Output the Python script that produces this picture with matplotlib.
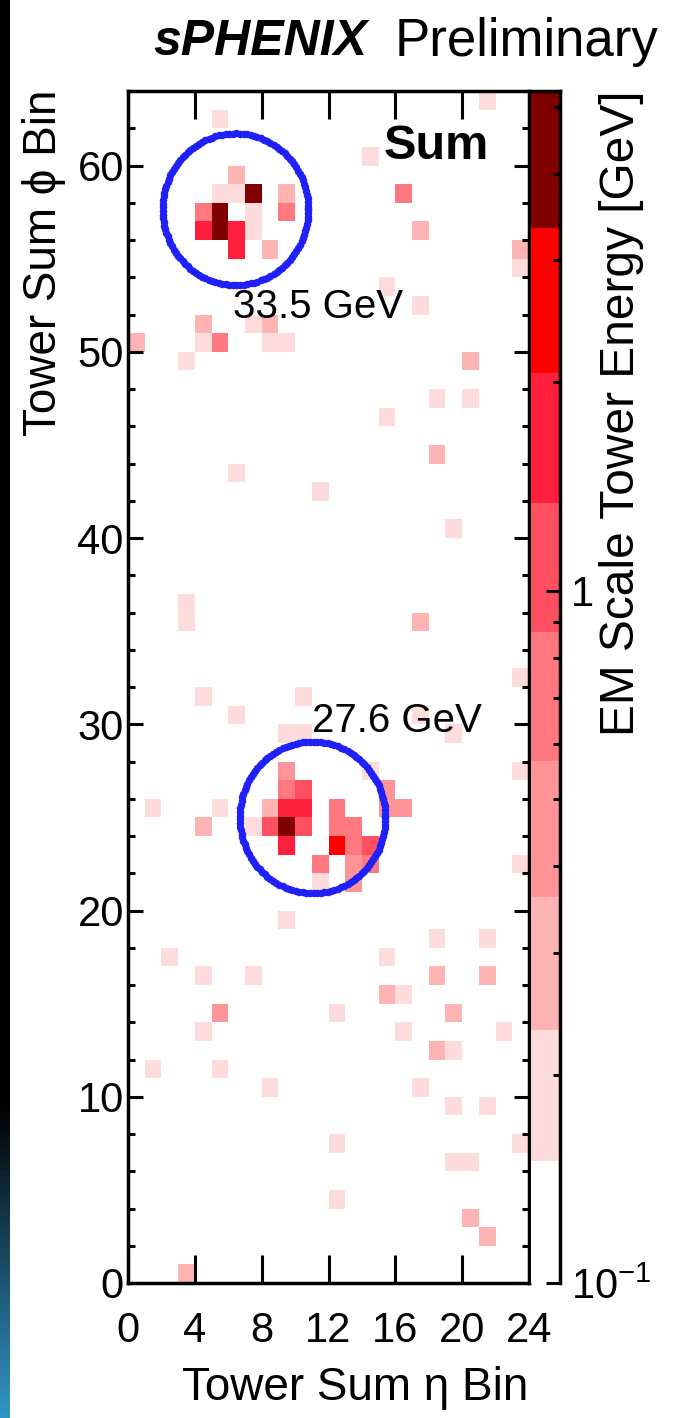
import numpy as np
import matplotlib
matplotlib.use('Agg')
import matplotlib.pyplot as plt
from matplotlib.colors import ListedColormap, BoundaryNorm

plt.rcParams['font.family'] = ['Liberation Sans', 'DejaVu Sans']
plt.rcParams['mathtext.fontset'] = 'custom'
plt.rcParams['mathtext.rm'] = 'Liberation Sans'
plt.rcParams['mathtext.it'] = 'Liberation Sans:italic'
plt.rcParams['mathtext.bf'] = 'Liberation Sans:bold'

# tower sums (eta bin, phi bin, energy in GeV)
eta_bins = [5, 21, 14, 6, 5, 6, 7, 9, 16,
            4, 5, 7, 9, 17,
            4, 5, 6, 7,
            6, 8, 23, 23, 15, 17,
            4, 7, 8, 0, 4, 5, 8, 9, 3, 20,
            18, 20, 15, 18, 6, 11, 19, 3, 3, 17,
            23, 4, 10, 6, 17, 9, 10, 19,
            9, 14, 23,
            9, 10, 15,
            1, 5, 8, 9, 10, 12, 15, 16,
            4, 7, 8, 9, 10, 12, 13,
            9, 12, 13, 14,
            11, 13, 14, 23,
            11, 13,
            9, 18, 21, 2, 15, 4, 7, 18, 21,
            15, 16, 5, 12, 19, 4, 16, 22,
            18, 19, 1, 5, 8, 17, 19, 21,
            12, 23, 19, 20, 12, 20, 21, 3]
phi_bins = [62, 63, 60, 59, 58, 58, 58, 58, 58,
            57, 57, 57, 57, 56,
            56, 56, 56, 56,
            55, 55, 55, 54, 53, 52,
            51, 51, 51, 50, 50, 50, 50, 50, 49, 49,
            47, 47, 46, 44, 43, 42, 40, 36, 35, 35,
            32, 31, 31, 30, 30, 29, 29, 29,
            27, 27, 27,
            26, 26, 26,
            25, 25, 25, 25, 25, 25, 25, 25,
            24, 24, 24, 24, 24, 24, 24,
            23, 23, 23, 23,
            22, 22, 22, 22,
            21, 21,
            19, 18, 18, 17, 17, 16, 16, 16, 16,
            15, 15, 14, 14, 14, 13, 13, 13,
            12, 12, 11, 11, 10, 10, 9, 9,
            7, 7, 6, 6, 4, 3, 2, 0]
energies = [0.19, 0.19, 0.19, 0.29, 0.19, 0.19, 4.2, 0.29, 0.70,
            0.70, 4.2, 0.19, 0.70, 0.29,
            1.7, 4.2, 1.7, 0.19,
            1.7, 0.29, 0.29, 0.19, 0.19, 0.19,
            0.29, 0.19, 0.29, 0.29, 0.19, 0.70, 0.19, 0.19, 0.19, 0.29,
            0.19, 0.19, 0.19, 0.29, 0.19, 0.19, 0.19, 0.19, 0.19, 0.29,
            0.19, 0.19, 0.19, 0.19, 0.19, 0.19, 0.19, 0.19,
            0.45, 0.19, 0.19,
            0.70, 1.1, 0.45,
            0.19, 0.19, 0.29, 1.7, 1.7, 0.70, 0.45, 0.45,
            0.29, 0.19, 1.1, 4.2, 1.1, 0.70, 0.70,
            1.7, 2.6, 0.70, 1.1,
            0.70, 0.45, 0.70, 0.19,
            0.19, 0.45,
            0.19, 0.19, 0.19, 0.19, 0.19, 0.19, 0.19, 0.29, 0.29,
            0.29, 0.19, 0.45, 0.19, 0.29, 0.19, 0.19, 0.19,
            0.29, 0.19, 0.19, 0.19, 0.19, 0.19, 0.19, 0.19,
            0.19, 0.19, 0.19, 0.19, 0.19, 0.29, 0.29, 0.29]

# z axis contours [GeV] and fill colours
z_levels = [0.1, 0.15, 0.232, 0.361, 0.567, 0.873, 1.34, 2.06, 3.34, 5.27]
z_colors = ['#ffffff', '#ffdcdc', '#ffb4b4', '#ff9498', '#ff7880',
            '#ff5062', '#ff1e3c', '#ff0000', '#800000']

# reconstructed jets: centre in bins, label
jet_eta = [6.44, 11.05]
jet_phi = [57.65, 25.0]
jet_r_eta = 4.36
jet_r_phi = 4.07
jet_labels = ['33.5 GeV', '27.6 GeV']
jet_label_pos = [(6.3, 52.4), (11.0, 30.2)]

n_eta, n_phi = 24, 64

H = np.zeros((n_phi, n_eta))
H[phi_bins, eta_bins] = energies
H = np.ma.masked_less(H, z_levels[0])

cmap = ListedColormap(z_colors)
norm = BoundaryNorm(z_levels, cmap.N)

W, Hpx = 674, 1418
fig = plt.figure(figsize=(W / 100, Hpx / 100), dpi=100)

# dark strip on the left edge of the screenshot
strip = fig.add_axes([0, 0, 10 / W, 1])
grad = np.linspace(0, 1, 200)
rgb = np.zeros((200, 1, 3))
t = np.clip((grad - 0.78) / 0.22, 0, 1)
rgb[:, 0, 0] = 0.20 * t
rgb[:, 0, 1] = 0.58 * t
rgb[:, 0, 2] = 0.78 * t
strip.imshow(rgb, aspect='auto', extent=[0, 1, 1, 0])
strip.axis('off')

ax = fig.add_axes([128 / W, 135 / Hpx, 401 / W, 1192 / Hpx])
ax.pcolormesh(np.arange(n_eta + 1), np.arange(n_phi + 1), H, cmap=cmap, norm=norm)
ax.set_xlim(0, n_eta)
ax.set_ylim(0, n_phi)

for x0, y0 in zip(jet_eta, jet_phi):
    th = np.linspace(0, 2 * np.pi, 130)
    ax.plot(x0 + jet_r_eta * np.cos(th), y0 + jet_r_phi * np.sin(th), ls='none',
            marker='o', ms=5.4, mew=0, color='#2020f8', zorder=5)
for lab, (x0, y0) in zip(jet_labels, jet_label_pos):
    ax.text(x0, y0, lab, fontsize=29, va='center', ha='left', zorder=6)
ax.text(15.3, 61.0, 'Sum', fontsize=35, fontweight='bold', va='center', ha='left')

ax.set_xticks(range(0, 25, 4))
ax.set_yticks(range(0, 61, 10))
ax.set_yticks(range(0, 65, 2), minor=True)
ax.tick_params(which='both', direction='in', top=True, right=True, width=2.2, labelsize=30)
ax.tick_params(axis='x', which='major', length=20, pad=20)
ax.tick_params(axis='x', which='minor', bottom=False, top=False)
ax.tick_params(axis='y', which='major', length=11, pad=3)
ax.tick_params(axis='y', which='minor', length=5)
for sp in ax.spines.values():
    sp.set_linewidth(2.5)

# colour scale
cax = fig.add_axes([531 / W, 135 / Hpx, 29 / W, 1192 / Hpx])
cax.set_yscale('log')
for lo, hi, c in zip(z_levels[:-1], z_levels[1:], z_colors):
    cax.axhspan(lo, hi, color=c, lw=0)
cax.set_ylim(z_levels[0], z_levels[-1])
cax.set_xlim(0, 1)
cax.set_xticks([])
cax.yaxis.tick_right()
cax.set_yticks([0.1, 1])
cax.set_yticklabels(['$10^{-1}$', '1'])
cax.set_yticks([0.2, 0.3, 0.4, 0.5, 0.6, 0.7, 0.8, 0.9, 2, 3, 4, 5], minor=True)
cax.yaxis.set_minor_formatter(plt.NullFormatter())
cax.tick_params(axis='y', which='both', direction='in', width=2.2, labelsize=30, pad=8)
cax.tick_params(axis='y', which='major', length=10)
cax.tick_params(axis='y', which='minor', length=5)
cax.spines['left'].set_visible(False)
cax.spines['bottom'].set_visible(False)
cax.spines['right'].set_linewidth(2.5)
cax.spines['top'].set_linewidth(2.5)

# axis titles and header
fig.text(528 / W, 1 - 1388 / Hpx, 'Tower Sum \u03b7 Bin', fontsize=33, ha='right', va='center')
fig.text(44 / W, 1 - 90 / Hpx, 'Tower Sum \u03d5 Bin', fontsize=33, rotation=90,
         ha='center', va='top')
fig.text(621 / W, 1 - 90 / Hpx, 'EM Scale Tower Energy [GeV]', fontsize=34.5, rotation=90,
         ha='center', va='top')
fig.text(153 / W, 1 - 42 / Hpx, 'sPHENIX', fontsize=36, fontweight='bold', fontstyle='italic',
         ha='left', va='center')
fig.text(395 / W, 1 - 42 / Hpx, 'Preliminary', fontsize=38, ha='left', va='center')

fig.savefig('out.png', dpi=100)
